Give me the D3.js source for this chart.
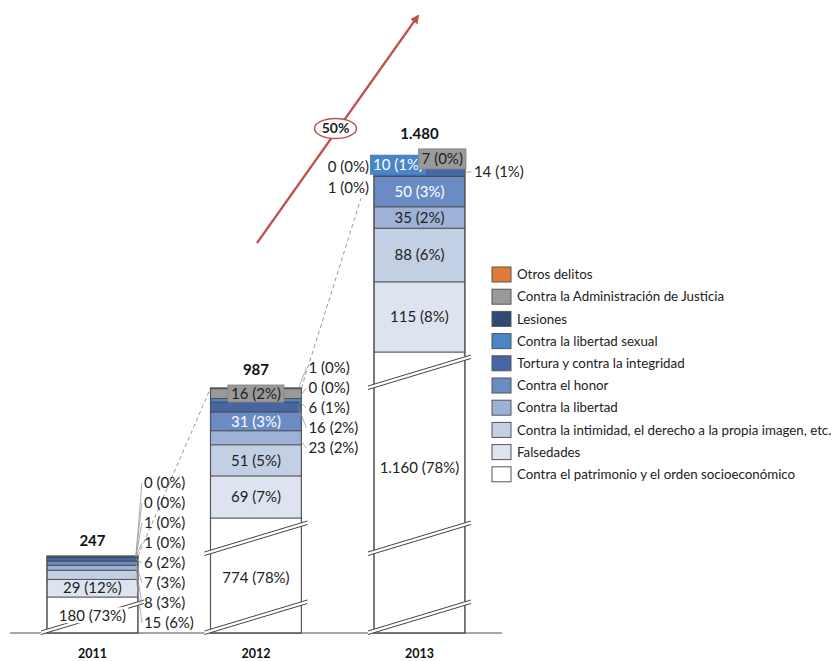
<!DOCTYPE html>
<html>
<head>
<meta charset="utf-8">
<script src="https://cdn.jsdelivr.net/npm/d3@7"></script>
<style>
    body { margin: 0; background: #fff; }
    svg text { font-family: Lato, "Open Sans", sans-serif; }
</style>
</head>
<body>
<script>
//chart data (stack order bottom -> top)
var years = ["2011", "2012", "2013"];
var categories = [
    "Contra el patrimonio y el orden socioeconómico",
    "Falsedades",
    "Contra la intimidad, el derecho a la propia imagen, etc.",
    "Contra la libertad",
    "Contra el honor",
    "Tortura y contra la integridad",
    "Contra la libertad sexual",
    "Lesiones",
    "Contra la Administración de Justicia",
    "Otros delitos"
];
var colors = ["#ffffff", "#dde4f0", "#c3cfe4", "#9eb2d7", "#6b8bc4", "#4766a4", "#4a85c8", "#2f4a74", "#999999", "#e07a36"];
var values2011 = [180, 29, 15, 8, 7, 6, 1, 1, 0, 0];
var values2012 = [774, 69, 51, 23, 31, 16, 6, 0, 16, 1];
var values2013 = [1160, 115, 88, 35, 50, 14, 10, 1, 7, 0];
var growthLabel = "50%";

//drawn height of the broken bottom segment for each year
var brokenHeights = [36, 115, 281];

var fmt = d3.formatLocale({decimal: ",", thousands: ".", grouping: [3], currency: ["", "€"]}).format(",");

window.onload = setChart;

function setChart(){
    var width = 834,
        height = 661,
        baseline = 633,
        numSize = 15;

    var svg = d3.select("body")
        .append("svg")
        .attr("width", width)
        .attr("height", height);

    var x = d3.scaleBand()
        .domain(years)
        .range([14.3, 497.6])
        .paddingInner(0.444)
        .paddingOuter(0.2);

    //linear scale for the upper segments, broken scale for the bottom one
    var unitScale = d3.scaleLinear().domain([0, 100]).range([0, 61]);
    var valuesByYear = [values2011, values2012, values2013];
    var brokenScale = d3.scaleLinear()
        .domain([0].concat(valuesByYear.map(function(v){ return v[0]; })))
        .range([0].concat(brokenHeights));

    //build stacks
    var bars = years.map(function(year, j){
        var vals = valuesByYear[j];
        var total = d3.sum(vals);
        var y = baseline;
        var segs = vals.map(function(v, i){
            var h = i == 0 ? brokenScale(v) : unitScale(v);
            var seg = {cat: i, value: v, pct: Math.round(v / total * 100), y0: y, y1: y - h, mid: y - h / 2};
            y -= h;
            return seg;
        });
        return {year: year, j: j, total: total, segs: segs, top: y, patTop: segs[0].y1,
                x0: x(year), x1: x(year) + x.bandwidth(), cx: x(year) + x.bandwidth() / 2, minY: y};
    });

    function segText(s){ return fmt(s.value) + " (" + s.pct + "%)"; }

    //growth arrow
    svg.append("defs").append("marker")
        .attr("id", "arrow")
        .attr("viewBox", "0 0 10 10")
        .attr("refX", 8).attr("refY", 5)
        .attr("markerWidth", 4).attr("markerHeight", 4)
        .attr("orient", "auto")
        .append("path")
        .attr("d", "M0,0 L10,5 L0,10 z")
        .attr("fill", "#c0504d");

    var arrow = {x1: 257, y1: 243, x2: 418, y2: 16};
    svg.append("line")
        .attr("x1", arrow.x1).attr("y1", arrow.y1)
        .attr("x2", arrow.x2).attr("y2", arrow.y2)
        .attr("stroke", "#c0504d")
        .attr("stroke-width", 2.2)
        .attr("marker-end", "url(#arrow)");

    var ex = (arrow.x1 + arrow.x2) / 2 - 2, ey = (arrow.y1 + arrow.y2) / 2 - 1;
    svg.append("ellipse")
        .attr("cx", ex).attr("cy", ey)
        .attr("rx", 21).attr("ry", 10)
        .attr("fill", "#fff")
        .attr("stroke", "#c0504d")
        .attr("stroke-width", 1.5);
    svg.append("text")
        .attr("x", ex).attr("y", ey)
        .attr("dy", "0.35em")
        .attr("text-anchor", "middle")
        .attr("font-size", 14)
        .attr("font-weight", "bold")
        .attr("fill", "#222")
        .text(growthLabel);

    //dashed connectors between bar tops
    svg.append("line")
        .attr("x1", bars[0].x1).attr("y1", bars[0].top)
        .attr("x2", bars[1].x0).attr("y2", bars[1].top)
        .attr("stroke", "#999").attr("stroke-dasharray", "4,3");
    var t = 0.82;
    svg.append("line")
        .attr("x1", bars[1].x1).attr("y1", bars[1].top)
        .attr("x2", bars[1].x1 + (bars[2].x0 - bars[1].x1) * t)
        .attr("y2", bars[1].top + (bars[2].top - bars[1].top) * t)
        .attr("stroke", "#999").attr("stroke-dasharray", "4,3");

    //baseline
    svg.append("line")
        .attr("x1", 10).attr("x2", 502)
        .attr("y1", baseline).attr("y2", baseline)
        .attr("stroke", "#8a8a8a")
        .attr("stroke-width", 1.5);

    //segments
    var barG = svg.selectAll(".bar")
        .data(bars)
        .enter()
        .append("g")
        .attr("class", "bar");

    barG.selectAll("rect")
        .data(function(d){ return d.segs.map(function(s){ s.bar = d; return s; }); })
        .enter()
        .append("rect")
        .attr("x", function(s){ return s.bar.x0; })
        .attr("y", function(s){ return s.y1; })
        .attr("width", x.bandwidth())
        .attr("height", function(s){ return s.y0 - s.y1; })
        .attr("fill", function(s){ return colors[s.cat]; })
        .attr("stroke", "#444")
        .attr("stroke-width", 0.8);

    barG.append("rect")
        .attr("x", function(d){ return d.x0; })
        .attr("y", function(d){ return d.top; })
        .attr("width", x.bandwidth())
        .attr("height", function(d){ return baseline - d.top; })
        .attr("fill", "none")
        .attr("stroke", "#555")
        .attr("stroke-width", 1.2);

    //axis breaks on the bottom segment
    bars.forEach(function(b){
        for (var i = 0; i <= b.j; i++){
            var L = bars[i].patTop;
            var xl = b.x0 - 6, xr = b.x1 + 6;
            svg.append("path")
                .attr("d", "M" + xl + "," + (L + 34) + "L" + xr + "," + (L + 3) +
                    "L" + xr + "," + (L + 6.5) + "L" + xl + "," + (L + 37.5) + "Z")
                .attr("fill", "#fff");
            [0, 3.5].forEach(function(o){
                svg.append("line")
                    .attr("x1", xl).attr("y1", L + 34 + o)
                    .attr("x2", xr).attr("y2", L + 3 + o)
                    .attr("stroke", "#444")
                    .attr("stroke-width", 1);
            });
        }
    });

    //bottom segment labels (white background)
    var patShift = [1, 2, -25];
    bars.forEach(function(b){
        var s = b.segs[0];
        var g = svg.append("g");
        var txt = g.append("text")
            .attr("x", b.cx).attr("y", s.mid + patShift[b.j])
            .attr("dy", "0.35em")
            .attr("text-anchor", "middle")
            .attr("font-size", numSize)
            .attr("fill", "#222")
            .text(segText(s));
        var bb = txt.node().getBBox();
        g.insert("rect", "text")
            .attr("x", bb.x - 2).attr("y", bb.y + 1)
            .attr("width", bb.width + 4).attr("height", bb.height - 2)
            .attr("fill", "#fff");
    });

    //which categories get which label style
    var inside = {"2011": [1], "2012": [1, 2, 4], "2013": [1, 2, 3, 4]};
    var boxed = {"2012": [8], "2013": [6, 8]};

    bars.forEach(function(b){
        (inside[b.year] || []).forEach(function(c){
            var s = b.segs[c];
            svg.append("text")
                .attr("x", b.cx).attr("y", s.mid)
                .attr("dy", "0.35em")
                .attr("text-anchor", "middle")
                .attr("font-size", numSize)
                .attr("fill", c == 4 ? "#fff" : "#222")
                .text(segText(s));
        });

        (boxed[b.year] || []).forEach(function(c){
            var s = b.segs[c];
            var g = svg.append("g");
            var txt = g.append("text")
                .attr("y", s.mid)
                .attr("dy", "0.35em")
                .attr("font-size", numSize)
                .attr("fill", c == 6 ? "#fff" : "#222")
                .text(segText(s));
            var w = txt.node().getComputedTextLength() + 6;
            var bx;
            if (b.year == "2012") bx = b.cx - w / 2;
            else if (c == 6) bx = b.x0 - 4;
            else bx = b.x1 + 1 - w;
            txt.attr("x", bx + 3);
            var bh = b.year == "2012" ? 17 : 20;
            g.insert("rect", "text")
                .attr("x", bx).attr("y", s.mid - bh / 2)
                .attr("width", w).attr("height", bh)
                .attr("fill", colors[c])
                .attr("stroke", c == 8 ? "#888" : "none");
            b.minY = Math.min(b.minY, s.mid - bh / 2);
        });
    });

    //outside labels with leader lines
    function outsideLabel(b, c, lx, ly, anchor, leader){
        var s = b.segs[c];
        if (leader){
            svg.append("line")
                .attr("x1", anchor == "end" ? lx + 2 : lx - 2).attr("y1", ly)
                .attr("x2", leader.x).attr("y2", leader.y)
                .attr("stroke", "#999")
                .attr("stroke-width", 0.8);
        }
        svg.append("text")
            .attr("x", lx).attr("y", ly)
            .attr("dy", "0.35em")
            .attr("text-anchor", anchor)
            .attr("font-size", numSize)
            .attr("fill", "#222")
            .text(segText(s));
    }

    var b0 = bars[0];
    [2, 3, 4, 5, 6, 7, 8, 9].forEach(function(c, k){
        outsideLabel(b0, c, b0.x1 + 6, baseline - 10 - k * 20, "start", {x: b0.x1 - 2, y: b0.segs[c].mid});
    });

    var b1 = bars[1];
    [3, 5, 6, 7, 9].forEach(function(c, k){
        outsideLabel(b1, c, b1.x1 + 7, b1.top + 60 - k * 20, "start", {x: b1.x1 - 3, y: b1.segs[c].mid});
    });

    var b2 = bars[2];
    [9, 7].forEach(function(c, k){
        outsideLabel(b2, c, b2.x0 - 5, b2.top + 10 + k * 21, "end", null);
    });
    outsideLabel(b2, 5, b2.x1 + 9, b2.segs[5].mid, "start", {x: b2.x1, y: b2.segs[5].mid});

    //totals
    svg.selectAll(".total")
        .data(bars)
        .enter()
        .append("text")
        .attr("class", "total")
        .attr("x", function(d){ return d.cx; })
        .attr("y", function(d){ return d.minY - 10; })
        .attr("text-anchor", "middle")
        .attr("font-size", 15)
        .attr("font-weight", "bold")
        .attr("fill", "#111")
        .text(function(d){ return fmt(d.total); });

    //year labels
    svg.selectAll(".year")
        .data(bars)
        .enter()
        .append("text")
        .attr("class", "year")
        .attr("x", function(d){ return d.cx; })
        .attr("y", 654)
        .attr("dy", "0.35em")
        .attr("text-anchor", "middle")
        .attr("font-size", 12.5)
        .attr("font-weight", "bold")
        .attr("fill", "#111")
        .text(function(d){ return d.year; });

    //legend (top = last category)
    var legendCats = d3.range(categories.length).reverse();
    var legend = svg.selectAll(".legend")
        .data(legendCats)
        .enter()
        .append("g")
        .attr("class", "legend")
        .attr("transform", function(d, i){ return "translate(492," + (267 + i * 22.2) + ")"; });

    legend.append("rect")
        .attr("width", 19)
        .attr("height", 15)
        .attr("fill", function(d){ return colors[d]; })
        .attr("stroke", "#555")
        .attr("stroke-width", 1);

    legend.append("text")
        .attr("x", 25)
        .attr("y", 7.5)
        .attr("dy", "0.35em")
        .attr("font-size", 13.3)
        .attr("fill", "#222")
        .text(function(d){ return categories[d]; });
}
</script>
</body>
</html>
